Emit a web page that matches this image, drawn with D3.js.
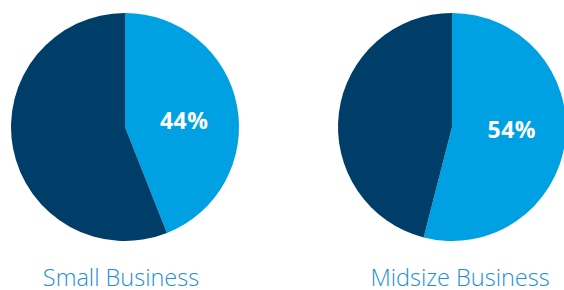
<!DOCTYPE html>
<html>
<head>
<meta charset="utf-8">
<script src="https://cdn.jsdelivr.net/npm/d3@7"></script>
<style>
  body { margin: 0; background: #fff; }
  .pct { font-family: "Open Sans", sans-serif; font-weight: bold; fill: #fff; }
  .caption { font-family: "Open Sans", sans-serif; font-weight: 300; fill: #1c8fd6; }
</style>
</head>
<body>
<script>
// data
let categories = ['Small Business', 'Midsize Business']
let shareValues = [44, 54]
let pctLabels = ['44%', '54%']

let width = 564
let height = 290
let radius = 114
let centers = [125, 452]
let cy = 127

let colors = ['#00a1e2', '#003e6a']

let svg = d3.select('body').append('svg')
    .attr('width', width)
    .attr('height', height)

let pie = d3.pie().sort(null).value(d => d)
let arc = d3.arc().innerRadius(0).outerRadius(radius)
let labelArc = d3.arc().innerRadius(radius * 1.04).outerRadius(0)

categories.forEach((cat, i) => {
    let v = shareValues[i]
    let slices = pie([v, 100 - v])

    let g = svg.append('g')
        .attr('transform', 'translate(' + centers[i] + ',' + cy + ')')

    g.selectAll('path')
        .data(slices)
        .enter()
        .append('path')
        .attr('d', arc)
        .attr('fill', (d, j) => colors[j])

    // labels sit a bit flatter than the true centroid
    let c = labelArc.centroid(slices[0])
    g.append('text')
        .attr('class', 'pct')
        .attr('x', c[0] + 1)
        .attr('y', c[1] * 0.5 - 1.5)
        .attr('text-anchor', 'middle')
        .attr('dominant-baseline', 'central')
        .style('font-size', '23px')
        .style('letter-spacing', '0.5px')
        .text(pctLabels[i])

    svg.append('text')
        .attr('class', 'caption')
        .attr('x', centers[i] - 4 + (i * 12))
        .attr('y', 285.5)
        .attr('text-anchor', 'middle')
        .style('font-size', '23.5px')
        .text(cat)
})
</script>
</body>
</html>
